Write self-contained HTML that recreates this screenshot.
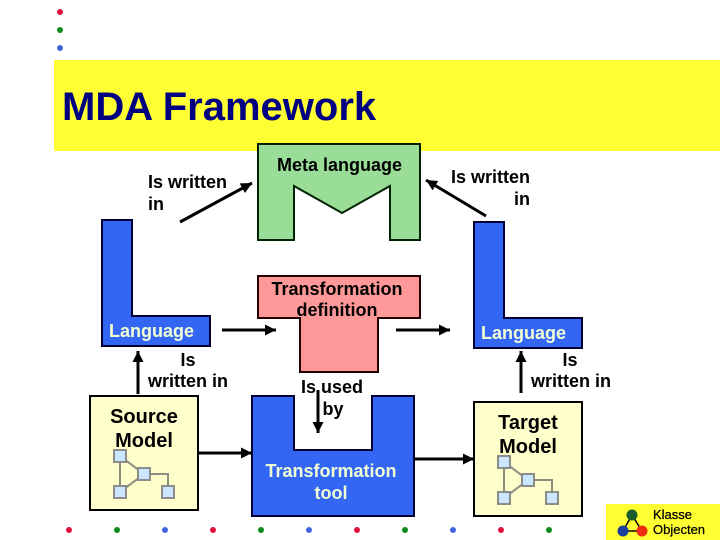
<!DOCTYPE html>
<html>
<head>
<meta charset="utf-8">
<style>
html,body{margin:0;padding:0;background:#fff;width:720px;height:540px;overflow:hidden}
svg{display:block}
text{font-family:"Liberation Sans",Arial,sans-serif;font-weight:bold;font-size:18px;fill:#000}
.c{fill:#f2ffd4}
.m{text-anchor:middle}
.big{font-size:20px}
</style>
</head>
<body>
<svg width="720" height="540" viewBox="0 0 720 540" xmlns="http://www.w3.org/2000/svg">
<defs>
<marker id="a" markerUnits="userSpaceOnUse" markerWidth="12" markerHeight="12" refX="11" refY="5.5" orient="auto"><path d="M0 0L11 5.5L0 11Z" fill="#000"/></marker>
<g id="gr">
<g stroke="#8c8c80" stroke-width="2" fill="none">
<path d="M0 0V36M0 0L24 18L0 36M24 18H48V36"/>
</g>
<g fill="#cce6ff" stroke="#8c8c8c" stroke-width="2">
<rect x="-6" y="-6" width="12" height="12"/>
<rect x="18" y="12" width="12" height="12"/>
<rect x="-6" y="30" width="12" height="12"/>
<rect x="42" y="30" width="12" height="12"/>
</g>
</g>
</defs>

<rect x="54" y="60" width="666" height="91" fill="#ffff33"/>
<text x="62" y="120" style="font-size:40px;fill:#000080">MDA Framework</text>

<g fill="#3366f5" stroke="#000033" stroke-width="2">
<path d="M102 220H132V316H210V346H102Z"/>
<path d="M474 222H504V318H582V348H474Z"/>
<path d="M252 396H294V450H372V396H414V516H252Z"/>
</g>
<path d="M258 144H420V240H390V186L342 213L294 186V240H258Z" fill="#99dd99" stroke="#002200" stroke-width="2"/>
<path d="M258 276H420V318H378V372H300V318H258Z" fill="#ff9999" stroke="#220000" stroke-width="2"/>
<rect x="90" y="396" width="108" height="114" fill="#ffffcc" stroke="#000" stroke-width="2"/>
<rect x="474" y="402" width="108" height="114" fill="#ffffcc" stroke="#000" stroke-width="2"/>
<use href="#gr" x="120" y="456"/>
<use href="#gr" x="504" y="462"/>

<g stroke="#000" stroke-width="3" fill="none">
<line x1="180" y1="222" x2="252" y2="183" marker-end="url(#a)"/>
<line x1="222" y1="330" x2="276" y2="330" marker-end="url(#a)"/>
<line x1="396" y1="330" x2="450" y2="330" marker-end="url(#a)"/>
<line x1="486" y1="216" x2="426" y2="180" marker-end="url(#a)"/>
<line x1="138" y1="394" x2="138" y2="351" marker-end="url(#a)"/>
<line x1="198" y1="453" x2="252" y2="453" marker-end="url(#a)"/>
<line x1="318" y1="390" x2="318" y2="433" marker-end="url(#a)"/>
<line x1="414" y1="459" x2="474" y2="459" marker-end="url(#a)"/>
<line x1="521" y1="393" x2="521" y2="351" marker-end="url(#a)"/>
</g>

<text x="148" y="188">Is written</text>
<text x="148" y="210">in</text>
<text x="277" y="171">Meta language</text>
<text x="530" y="183" text-anchor="end">Is written</text>
<text x="530" y="205" text-anchor="end">in</text>
<text x="337" y="295" class="m">Transformation</text>
<text x="337" y="316" class="m">definition</text>
<text x="109" y="337" class="c">Language</text>
<text x="481" y="339" class="c">Language</text>
<text x="188" y="366" class="m">Is</text>
<text x="188" y="387" class="m">written in</text>
<text x="570" y="366" class="m">Is</text>
<text x="571" y="387" class="m">written in</text>
<text x="144" y="423" class="m big">Source</text>
<text x="144" y="447" class="m big">Model</text>
<text x="528" y="429" class="m big">Target</text>
<text x="528" y="453" class="m big">Model</text>
<text x="332" y="393" class="m">Is used</text>
<text x="333" y="415" class="m">by</text>
<text x="331" y="477" class="m c">Transformation</text>
<text x="331" y="499" class="m c">tool</text>

<g fill="#e0103c"><circle cx="60" cy="12" r="3"/><circle cx="69" cy="530" r="3"/><circle cx="213" cy="530" r="3"/><circle cx="357" cy="530" r="3"/><circle cx="501" cy="530" r="3"/></g>
<g fill="#0f8a1e"><circle cx="60" cy="30" r="3"/><circle cx="117" cy="530" r="3"/><circle cx="261" cy="530" r="3"/><circle cx="405" cy="530" r="3"/><circle cx="549" cy="530" r="3"/></g>
<g fill="#3f66dd"><circle cx="60" cy="48" r="3"/><circle cx="165" cy="530" r="3"/><circle cx="309" cy="530" r="3"/><circle cx="453" cy="530" r="3"/></g>

<rect x="606" y="504" width="114" height="36" fill="#ffff33"/>
<path d="M632 515L623 531H642Z" fill="none" stroke="#000" stroke-width="1.5"/>
<circle cx="632" cy="515" r="5.5" fill="#1a5c2a"/>
<circle cx="623" cy="531" r="5.5" fill="#1a3f9c"/>
<circle cx="642" cy="531" r="5.5" fill="#ee2a10"/>
<text x="653" y="519" style="font-size:13px;font-weight:normal;stroke:#000;stroke-width:.25">Klasse</text>
<text x="653" y="534" style="font-size:13px;font-weight:normal;stroke:#000;stroke-width:.25">Objecten</text>
</svg>
</body>
</html>
